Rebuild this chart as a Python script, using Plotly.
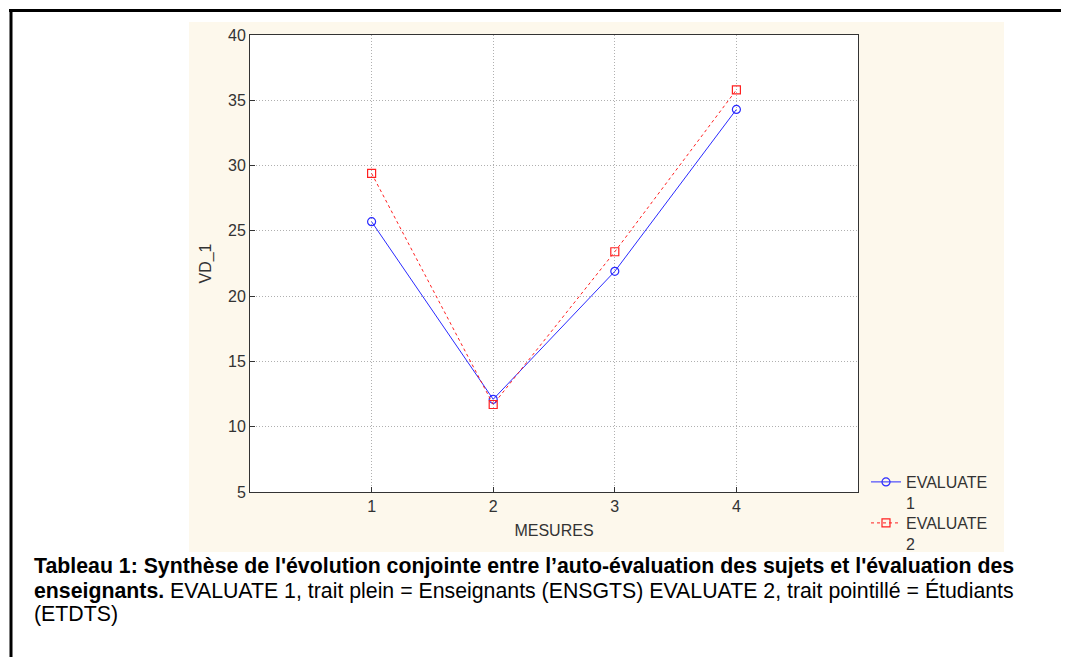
import plotly.graph_objects as go

mesures = [1, 2, 3, 4]
evaluate_1 = [25.7, 12.1, 21.9, 34.3]
evaluate_2 = [29.4, 11.7, 23.4, 35.8]
x_ticks = [1, 2, 3, 4]
y_ticks = [5, 10, 15, 20, 25, 30, 35, 40]
series_names = ["EVALUATE<br>1", "EVALUATE<br>2"]

OFF = 8  # page body margin
W, H = 1069, 657 - OFF
L, R, T, B = 250 - OFF, 858 - OFF, 35 - OFF, 492 - OFF
pw, ph = R - L, B - T

def px(x):
    return (x - OFF - L) / pw

def py(y):
    return (B - (y - OFF)) / ph

font = "Arial, 'Liberation Sans', sans-serif"

fig = go.Figure()
fig.add_trace(go.Scatter(
    x=mesures, y=evaluate_1, name=series_names[0], mode="lines+markers",
    line=dict(color="#2a2aff", width=1),
    marker=dict(symbol="circle-open", size=8, color="#2a2aff", line=dict(width=1.2)),
    legend="legend",
))
fig.add_trace(go.Scatter(
    x=mesures, y=evaluate_2, name=series_names[1], mode="lines+markers",
    line=dict(color="#ff2020", width=1, dash="3px,3px"),
    marker=dict(symbol="square-open", size=8, color="#ff2020", line=dict(width=1.2)),
    legend="legend2",
))

axis_common = dict(
    showline=True, mirror=True, linecolor="#333333", linewidth=1,
    ticks="inside", ticklen=5, tickcolor="#333333",
    showgrid=True, gridcolor="#b0b0b0", griddash="1px,2px", gridwidth=1,
    zeroline=False, tickfont=dict(family=font, size=16, color="#333333"),
)

fig.update_xaxes(range=[0, 5], tickvals=x_ticks,
                 title=dict(text="MESURES", font=dict(family=font, size=16, color="#333333"), standoff=10),
                 **axis_common)
fig.update_yaxes(range=[5, 40], tickvals=y_ticks,
                 title=dict(text="VD_1", font=dict(family=font, size=16, color="#333333"), standoff=12),
                 **axis_common)

shapes = [
    dict(type="rect", xref="paper", yref="paper", x0=px(189), x1=px(1004), y0=py(552), y1=py(22),
         fillcolor="#fdf8ec", line=dict(width=0), layer="below"),
    dict(type="rect", xref="paper", yref="paper", x0=0, x1=1, y0=0, y1=1,
         fillcolor="white", line=dict(width=0), layer="below"),
    dict(type="line", xref="paper", yref="paper", x0=px(9), x1=px(1085), y0=py(10.5), y1=py(10.5),
         line=dict(color="black", width=3)),
    dict(type="line", xref="paper", yref="paper", x0=px(11), x1=px(11), y0=py(9), y1=py(670),
         line=dict(color="black", width=3)),
]

caption_lines = [
    "<b>Tableau 1: Synthèse de l'évolution conjointe entre l’auto-évaluation des sujets et l'évaluation des</b>",
    "<b>enseignants.</b> EVALUATE 1, trait plein = Enseignants (ENSGTS) EVALUATE 2, trait pointillé = Étudiants",
    "(ETDTS)",
]
annotations = []
for i, line in enumerate(caption_lines):
    annotations.append(dict(
        xref="paper", yref="paper", x=px(32), y=py(566 + 24 * i), xanchor="left", yanchor="middle",
        text=line, showarrow=False, font=dict(family=font, size=21.3, color="black"), align="left",
    ))

legend_common = dict(xanchor="left", yanchor="top", valign="top",
                     bgcolor="rgba(0,0,0,0)", font=dict(family=font, size=16, color="#333333"),
                     tracegroupgap=0, itemwidth=30)

fig.update_layout(
    width=W, height=H,
    margin=dict(l=L, r=W - R, t=T, b=H - B, pad=0),
    paper_bgcolor="white", plot_bgcolor="white",
    shapes=shapes, annotations=annotations,
    showlegend=True,
    legend=dict(x=px(866), y=py(465), **legend_common),
    legend2=dict(x=px(866), y=py(506), **legend_common),
)

fig.write_html("out.html")
